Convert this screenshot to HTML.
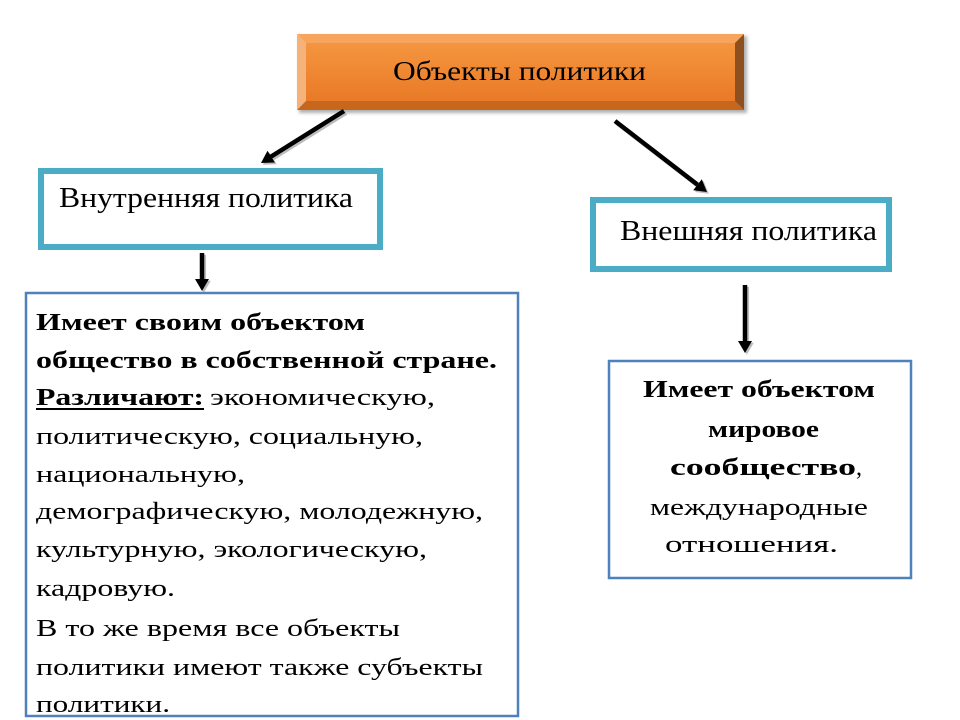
<!DOCTYPE html>
<html>
<head>
<meta charset="utf-8">
<style>
  html,body{margin:0;padding:0;background:#fff;}
  svg{display:block;}
  text{font-family:"Liberation Serif","Times New Roman",serif;fill:#000;}
</style>
</head>
<body>
<svg width="960" height="720" viewBox="0 0 960 720" xmlns="http://www.w3.org/2000/svg">
  <defs>
    <linearGradient id="face" x1="0" y1="0" x2="0" y2="1">
      <stop offset="0" stop-color="#f5953f"/>
      <stop offset="1" stop-color="#e97a27"/>
    </linearGradient>
    <filter id="blur" x="-10%" y="-10%" width="120%" height="140%">
      <feGaussianBlur stdDeviation="1.5"/>
    </filter>
  </defs>

  <!-- Orange bevel box -->
  <rect x="299" y="36" width="448" height="77" fill="#b0b0b0" filter="url(#blur)"/>
  <rect x="306" y="43" width="429" height="58" fill="url(#face)"/>
  <polygon points="297,34 744,34 735,43 306,43" fill="#f7a55d"/>
  <polygon points="297,34 306,43 306,101 297,110" fill="#f6b27b"/>
  <polygon points="297,110 306,101 735,101 744,110" fill="#c7661d"/>
  <polygon points="744,34 744,110 735,101 735,43" fill="#8f501f"/>
  <text x="393" y="80" font-size="27" textLength="253" lengthAdjust="spacingAndGlyphs">Объекты политики</text>

  <!-- Arrow shadows -->
  <g fill="#a0a0a0" stroke="#a0a0a0" opacity="0.7" transform="translate(1.8,1.8)">
    <line x1="344" y1="111" x2="271" y2="156.6" stroke-width="4.5"/>
    <polygon points="261,163 274.9,162.5 267.5,150.7" stroke="none"/>
    <line x1="615" y1="121" x2="697.5" y2="184.7" stroke-width="4.5"/>
    <polygon points="707,192 693.2,190.2 701.8,179.2" stroke="none"/>
    <line x1="202" y1="253" x2="202" y2="279" stroke-width="4.5"/>
    <polygon points="202,291 195,279 209,279" stroke="none"/>
    <line x1="745" y1="285" x2="745" y2="341" stroke-width="4.5"/>
    <polygon points="745,353 738,341 752,341" stroke="none"/>
  </g>
  <!-- Arrows -->
  <g fill="#000" stroke="#000">
    <line x1="344" y1="111" x2="271" y2="156.6" stroke-width="4.5"/>
    <polygon points="261,163 274.9,162.5 267.5,150.7" stroke="none"/>
    <line x1="615" y1="121" x2="697.5" y2="184.7" stroke-width="4.5"/>
    <polygon points="707,192 693.2,190.2 701.8,179.2" stroke="none"/>
    <line x1="202" y1="253" x2="202" y2="280" stroke-width="4.5"/>
    <polygon points="202,291 195,279 209,279" stroke="none"/>
    <line x1="745" y1="285" x2="745" y2="342" stroke-width="4.5"/>
    <polygon points="745,353 738,341 752,341" stroke="none"/>
  </g>

  <!-- Внутренняя политика -->
  <rect x="41" y="171" width="339" height="76" fill="#fff" stroke="#4bacc6" stroke-width="6"/>
  <text x="59" y="207" font-size="28" textLength="294" lengthAdjust="spacingAndGlyphs">Внутренняя политика</text>

  <!-- Внешняя политика -->
  <rect x="593" y="200" width="296" height="69" fill="#fff" stroke="#4bacc6" stroke-width="6"/>
  <text x="620" y="240" font-size="28" textLength="257" lengthAdjust="spacingAndGlyphs">Внешняя политика</text>

  <!-- Left big box -->
  <rect x="26" y="293" width="492" height="423" fill="#fff" stroke="#4f81bd" stroke-width="2.5"/>
  <g font-size="24">
    <text x="36" y="330" font-weight="bold" textLength="329" lengthAdjust="spacingAndGlyphs">Имеет своим объектом</text>
    <text x="36" y="368" font-weight="bold" textLength="461" lengthAdjust="spacingAndGlyphs">общество в собственной стране.</text>
    <text x="36" y="405" font-weight="bold" textLength="168" lengthAdjust="spacingAndGlyphs">Различают:</text>
    <line x1="36" y1="409" x2="204" y2="409" stroke="#000" stroke-width="2"/>
    <text x="210" y="405" textLength="225" lengthAdjust="spacingAndGlyphs">экономическую,</text>
    <text x="36" y="444" textLength="387" lengthAdjust="spacingAndGlyphs">политическую, социальную,</text>
    <text x="36" y="482" textLength="209" lengthAdjust="spacingAndGlyphs">национальную,</text>
    <text x="36" y="519" textLength="447" lengthAdjust="spacingAndGlyphs">демографическую, молодежную,</text>
    <text x="36" y="557" textLength="391" lengthAdjust="spacingAndGlyphs">культурную, экологическую,</text>
    <text x="36" y="596" textLength="139" lengthAdjust="spacingAndGlyphs">кадровую.</text>
    <text x="36" y="636" textLength="364" lengthAdjust="spacingAndGlyphs">В то же время все объекты</text>
    <text x="36" y="675" textLength="447" lengthAdjust="spacingAndGlyphs">политики имеют также субъекты</text>
    <text x="36" y="712" textLength="134" lengthAdjust="spacingAndGlyphs">политики.</text>
  </g>

  <!-- Right box -->
  <rect x="609" y="361" width="302" height="217" fill="#fff" stroke="#4f81bd" stroke-width="2.5"/>
  <g font-size="24">
    <text x="643" y="397" font-weight="bold" textLength="232" lengthAdjust="spacingAndGlyphs">Имеет объектом</text>
    <text x="708" y="437" font-weight="bold" textLength="111" lengthAdjust="spacingAndGlyphs">мировое</text>
    <text x="670" y="475" font-weight="bold" textLength="186" lengthAdjust="spacingAndGlyphs">сообщество</text>
    <text x="856" y="475">,</text>
    <text x="650" y="515" textLength="218" lengthAdjust="spacingAndGlyphs">международные</text>
    <text x="665" y="552" textLength="173" lengthAdjust="spacingAndGlyphs">отношения.</text>
  </g>
</svg>
</body>
</html>
